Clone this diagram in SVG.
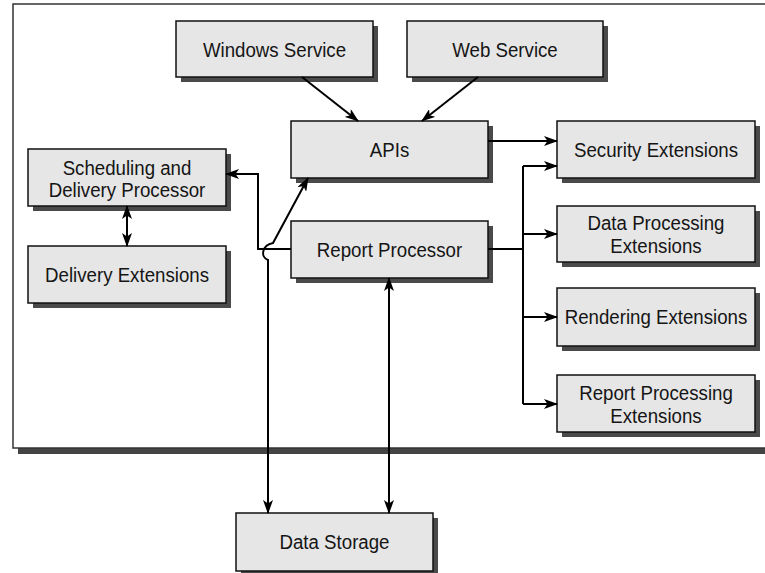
<svg xmlns="http://www.w3.org/2000/svg" width="765" height="573" viewBox="0 0 765 573">
<style>
.sh{fill:#4a4a4a}
.bx{fill:#e6e6e6;stroke:#111;stroke-width:1.5}
.t{font-family:"Liberation Sans",Arial,sans-serif;font-size:21px;fill:#151515;text-anchor:middle}
.c{fill:none;stroke:#000;stroke-width:2}
</style>
<defs>
<marker id="ah" viewBox="0 0 14 10" refX="13" refY="5" markerWidth="14" markerHeight="10" markerUnits="userSpaceOnUse" orient="auto-start-reverse">
<path d="M0,0 L14,5 L0,10 L3.5,5 z" fill="#000"/>
</marker>
</defs>
<g id="frame">
<rect x="18" y="9" width="760" height="445" fill="#444"/>
<rect x="13" y="4" width="760" height="444" fill="#fff" stroke="#333" stroke-width="1.5"/>
</g>
<g id="windows-service">
<rect class="sh" x="181" y="26" width="197" height="56"/>
<rect class="bx" x="176" y="21" width="197" height="56"/>
<text class="t" transform="translate(274.5,57) scale(0.89,1)">Windows Service</text>
</g>
<g id="web-service">
<rect class="sh" x="412" y="26" width="196" height="56"/>
<rect class="bx" x="407" y="21" width="196" height="56"/>
<text class="t" transform="translate(505,57) scale(0.89,1)">Web Service</text>
</g>
<g id="apis">
<rect class="sh" x="296" y="126" width="197" height="57"/>
<rect class="bx" x="291" y="121" width="197" height="57"/>
<text class="t" transform="translate(389.5,157) scale(0.89,1)">APIs</text>
</g>
<g id="security-extensions">
<rect class="sh" x="562" y="126" width="198" height="57"/>
<rect class="bx" x="557" y="121" width="198" height="57"/>
<text class="t" transform="translate(656,157) scale(0.89,1)">Security Extensions</text>
</g>
<g id="scheduling">
<rect class="sh" x="33" y="154" width="198" height="57"/>
<rect class="bx" x="28" y="149" width="198" height="57"/>
<text class="t" transform="translate(127,175) scale(0.89,1)">Scheduling and</text>
<text class="t" transform="translate(127,197) scale(0.89,1)">Delivery Processor</text>
</g>
<g id="delivery-extensions">
<rect class="sh" x="33" y="251" width="198" height="57"/>
<rect class="bx" x="28" y="246" width="198" height="57"/>
<text class="t" transform="translate(127,282) scale(0.89,1)">Delivery Extensions</text>
</g>
<g id="report-processor">
<rect class="sh" x="296" y="226" width="197" height="57"/>
<rect class="bx" x="291" y="221" width="197" height="57"/>
<text class="t" transform="translate(389.5,257) scale(0.89,1)">Report Processor</text>
</g>
<g id="data-processing-extensions">
<rect class="sh" x="562" y="211" width="198" height="56"/>
<rect class="bx" x="557" y="206" width="198" height="56"/>
<text class="t" transform="translate(656,230) scale(0.89,1)">Data Processing</text>
<text class="t" transform="translate(656,253) scale(0.89,1)">Extensions</text>
</g>
<g id="rendering-extensions">
<rect class="sh" x="562" y="293" width="198" height="58"/>
<rect class="bx" x="557" y="288" width="198" height="58"/>
<text class="t" transform="translate(656,324) scale(0.89,1)">Rendering Extensions</text>
</g>
<g id="report-processing-extensions">
<rect class="sh" x="562" y="380" width="198" height="57"/>
<rect class="bx" x="557" y="375" width="198" height="57"/>
<text class="t" transform="translate(656,400) scale(0.89,1)">Report Processing</text>
<text class="t" transform="translate(656,423) scale(0.89,1)">Extensions</text>
</g>
<g id="data-storage">
<rect class="sh" x="241" y="518" width="197" height="58"/>
<rect class="bx" x="236" y="513" width="197" height="58"/>
<text class="t" transform="translate(334.5,549) scale(0.89,1)">Data Storage</text>
</g>
<g id="connectors">
<path class="c" d="M302,77 L358,121" marker-end="url(#ah)"/>
<path class="c" d="M478,77 L422,121" marker-end="url(#ah)"/>
<path class="c" d="M488,141 L557,141" marker-end="url(#ah)"/>
<path class="c" d="M488,249 L523,249"/>
<path class="c" d="M523,166 L523,404"/>
<path class="c" d="M523,166 L557,166" marker-end="url(#ah)"/>
<path class="c" d="M523,234 L557,234" marker-end="url(#ah)"/>
<path class="c" d="M523,317 L557,317" marker-end="url(#ah)"/>
<path class="c" d="M523,404 L557,404" marker-end="url(#ah)"/>
<path class="c" d="M291,249 L258,249 L258,174 L226,174" marker-end="url(#ah)"/>
<path class="c" d="M127,206 L127,246" marker-start="url(#ah)" marker-end="url(#ah)"/>
<path class="c" d="M308,178 L273,243 C262,245 260,257 268,260 L268,513" marker-start="url(#ah)" marker-end="url(#ah)"/>
<path class="c" d="M389,278 L389,513" marker-start="url(#ah)" marker-end="url(#ah)"/>
</g>
</svg>
